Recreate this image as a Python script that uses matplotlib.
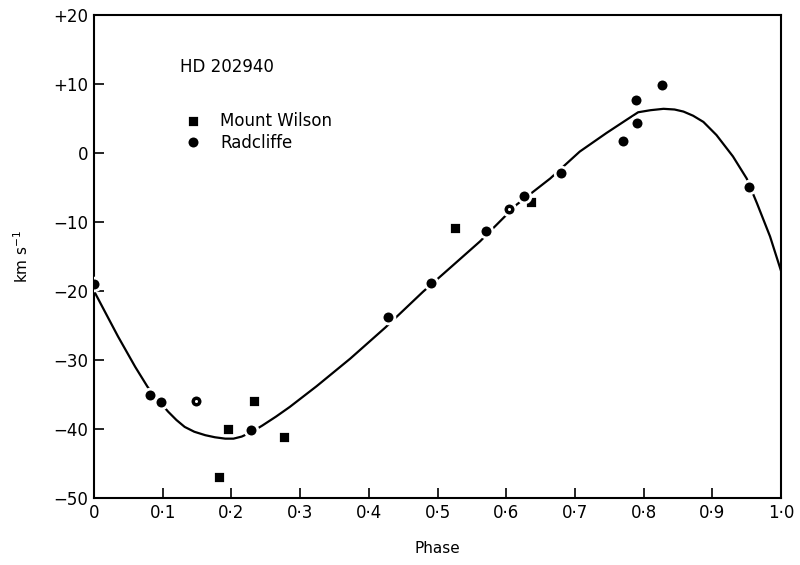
import numpy as np
import matplotlib
matplotlib.use('Agg')
import matplotlib.pyplot as plt

# Radial velocities of HD 202940
mw_phase = [0.182, 0.195, 0.233, 0.277, 0.525, 0.636]
mw_vel = [-46.9, -40.0, -35.9, -41.1, -10.9, -7.1]

rad_phase = [0.0, 0.0815, 0.097, 0.228, 0.428, 0.491, 0.571, 0.626, 0.679,
             0.770, 0.789, 0.791, 0.827, 0.954]
rad_vel = [-19.0, -35.1, -36.1, -40.1, -23.8, -18.8, -11.3, -6.3, -2.9,
           1.8, 7.7, 4.3, 9.8, -4.9]

# Radcliffe points drawn with a hollow centre
rad_open_phase = [0.148, 0.604]
rad_open_vel = [-36.0, -8.1]

# velocity curve
curve_phase = [0.0, 0.018, 0.035, 0.060, 0.078, 0.094, 0.108, 0.120, 0.132,
               0.146, 0.162, 0.176, 0.191, 0.203, 0.215, 0.230, 0.245, 0.265,
               0.285, 0.324, 0.373, 0.424, 0.479, 0.520, 0.562, 0.615, 0.664,
               0.707, 0.746, 0.775, 0.792, 0.810, 0.829, 0.845, 0.858, 0.872,
               0.887, 0.906, 0.930, 0.950, 0.965, 0.984, 1.0]
curve_vel = [-20.0, -23.4, -26.6, -31.0, -33.9, -35.9, -37.5, -38.7, -39.7,
             -40.4, -40.9, -41.2, -41.4, -41.4, -41.1, -40.4, -39.5, -38.2,
             -36.8, -33.8, -29.8, -25.3, -20.1, -16.5, -12.8, -7.5, -3.7,
             0.2, 2.9, 4.8, 5.9, 6.2, 6.4, 6.3, 6.0, 5.4,
             4.5, 2.6, -0.5, -3.7, -7.3, -12.1, -17.1]

x_ticks = [0, 0.1, 0.2, 0.3, 0.4, 0.5, 0.6, 0.7, 0.8, 0.9, 1.0]
x_labels = ['0', '0·1', '0·2', '0·3', '0·4', '0·5', '0·6', '0·7', '0·8', '0·9', '1·0']
y_ticks = [20, 10, 0, -10, -20, -30, -40, -50]
y_labels = ['+20', '+10', '0', '\u221210', '\u221220', '\u221230', '\u221240', '\u221250']

plt.rcParams['font.family'] = ['DejaVu Sans']

fig = plt.figure(figsize=(8, 5.65), dpi=100)
ax = fig.add_axes([0.1175, 0.1186, 0.8588, 0.8549])

ax.plot(curve_phase, curve_vel, color='black', lw=1.6, zorder=2)

ax.plot(mw_phase, mw_vel, 's', color='black', ms=8.5, mec='white', mew=2,
        zorder=3, label='Mount Wilson')
ax.plot(rad_phase, rad_vel, 'o', color='black', ms=9.2, mec='white', mew=2,
        zorder=3, label='Radcliffe')
ax.plot(rad_open_phase, rad_open_vel, 'o', color='black', ms=9.2, mec='white',
        mew=2, zorder=3)
ax.plot(rad_open_phase, rad_open_vel, 'o', color='white', ms=2.2, mew=0, zorder=4)

ax.set_xlim(0, 1.0)
ax.set_ylim(-50, 20)
ax.set_xticks(x_ticks)
ax.set_xticklabels(x_labels)
ax.set_yticks(y_ticks)
ax.set_yticklabels(y_labels)
ax.tick_params(direction='in', length=7, width=1.2, labelsize=12, pad=4)
ax.tick_params(axis='x', top=False)
ax.tick_params(axis='y', right=False)
for sp in ax.spines.values():
    sp.set_linewidth(1.5)

ax.set_xlabel('Phase', fontsize=11, labelpad=14)
ax.set_ylabel('km s$^{-1}$', fontsize=11, labelpad=16)

ax.text(0.125, 0.892, 'HD 202940', transform=ax.transAxes, fontsize=12,
        va='center', ha='left')
ax.legend(loc='upper left', bbox_to_anchor=(0.125, 0.812), frameon=False,
          fontsize=12, handlelength=0.8, handletextpad=1.2, labelspacing=0.2,
          borderaxespad=0)

fig.savefig('out.png', dpi=100)
